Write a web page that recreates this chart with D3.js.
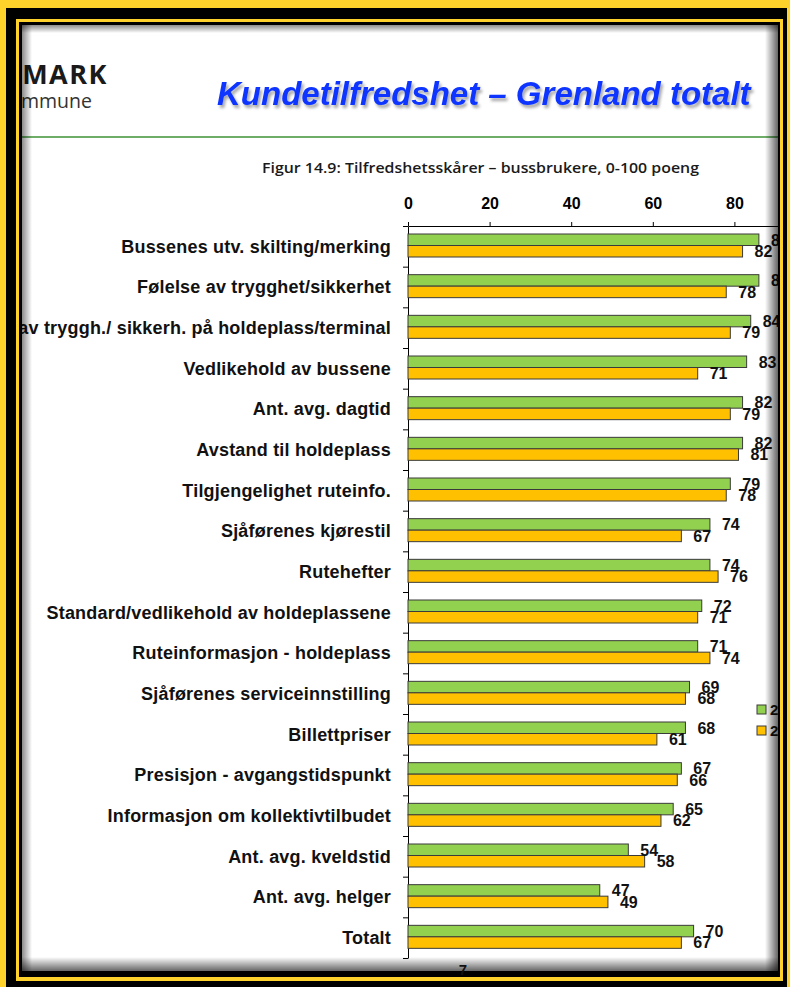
<!DOCTYPE html>
<html>
<head>
<meta charset="utf-8">
<script src="https://d3js.org/d3.v7.min.js"></script>
<style>
  body { margin: 0; background: #FFD12B; }
  svg { display: block; }
</style>
</head>
<body>
<div id="chart"></div>
<script>

// data
var categories = [
  "Bussenes utv. skilting/merking",
  "Følelse av trygghet/sikkerhet",
  "Følelse av tryggh./ sikkerh. på holdeplass/terminal",
  "Vedlikehold av bussene",
  "Ant. avg. dagtid",
  "Avstand til holdeplass",
  "Tilgjengelighet ruteinfo.",
  "Sjåførenes kjørestil",
  "Rutehefter",
  "Standard/vedlikehold av holdeplassene",
  "Ruteinformasjon - holdeplass",
  "Sjåførenes serviceinnstilling",
  "Billettpriser",
  "Presisjon - avgangstidspunkt",
  "Informasjon om kollektivtilbudet",
  "Ant. avg. kveldstid",
  "Ant. avg. helger",
  "Totalt"
];
var series2012 = [86, 86, 84, 83, 82, 82, 79, 74, 74, 72, 71, 69, 68, 67, 65, 54, 47, 70];
var series2010 = [82, 78, 79, 71, 79, 81, 78, 67, 76, 71, 74, 68, 61, 66, 62, 58, 49, 67];
var seriesNames = ["2012", "2010"];
var seriesColors = ["#92D050", "#FFC000"];
var xTicks = [0, 20, 40, 60, 80, 100];

var width = 790;
var height = 987;
var arial = "'Liberation Sans', Arial, sans-serif";

var svg = d3
  .select("#chart")
  .append("svg")
  .attr("width", width)
  .attr("height", height);

var defs = svg.append("defs");

defs.append("clipPath").attr("id", "slideClip")
  .append("rect")
  .attr("x", 22).attr("y", 25).attr("width", 756).attr("height", 946);

var shadow = defs.append("filter").attr("id", "titleShadow")
  .attr("x", "-5%").attr("y", "-30%").attr("width", "110%").attr("height", "160%");
shadow.append("feDropShadow")
  .attr("dx", 2).attr("dy", 3).attr("stdDeviation", 1.4)
  .attr("flood-color", "#000").attr("flood-opacity", 0.35);

// gradients for the inner shadow of the slide
function edgeGrad(id, x1, y1, x2, y2, op) {
  var g = defs.append("linearGradient").attr("id", id)
    .attr("x1", x1).attr("y1", y1).attr("x2", x2).attr("y2", y2);
  g.append("stop").attr("offset", "0%").attr("stop-color", "#000").attr("stop-opacity", op);
  g.append("stop").attr("offset", "100%").attr("stop-color", "#000").attr("stop-opacity", 0);
}
edgeGrad("gLeft", 0, 0, 1, 0, 0.45);
edgeGrad("gTop", 0, 0, 0, 1, 0.45);
edgeGrad("gRight", 1, 0, 0, 0, 0.6);
edgeGrad("gBottom", 0, 1, 0, 0, 0.6);

// frame
svg.append("rect").attr("width", width).attr("height", height).attr("fill", "#FFD12B");
svg.append("rect").attr("x", 6).attr("y", 8).attr("width", 781).attr("height", 979).attr("fill", "#000");
svg.append("rect").attr("x", 16).attr("y", 19).attr("width", 767).attr("height", 962).attr("fill", "#FFD12B");
svg.append("rect").attr("x", 19).attr("y", 22).attr("width", 761).attr("height", 955).attr("fill", "#000");

var slide = svg.append("g").attr("clip-path", "url(#slideClip)");
slide.append("rect").attr("x", 22).attr("y", 25).attr("width", 756).attr("height", 946).attr("fill", "#fff");

// logo (cut by the frame)
slide.append("text")
  .attr("x", 108).attr("y", 84)
  .attr("text-anchor", "end")
  .attr("font-family", "'Open Sans', sans-serif")
  .attr("font-weight", 700)
  .attr("font-size", 27)
  .attr("letter-spacing", 1.5)
  .attr("fill", "#1a1a1a")
  .text("TELEMARK");
slide.append("text")
  .attr("x", 92).attr("y", 108)
  .attr("text-anchor", "end")
  .attr("font-family", "'Open Sans', sans-serif")
  .attr("font-size", 19.5)
  .attr("fill", "#333")
  .text("fylkeskommune");

// title
slide.append("text")
  .attr("x", 217).attr("y", 105)
  .attr("font-family", arial)
  .attr("font-weight", "bold")
  .attr("font-style", "italic")
  .attr("font-size", 33)
  .attr("fill", "#0F35FF")
  .attr("filter", "url(#titleShadow)")
  .text("Kundetilfredshet – Grenland totalt");

slide.append("line")
  .attr("x1", 22).attr("x2", 778).attr("y1", 137).attr("y2", 137)
  .attr("stroke", "#3C9234").attr("stroke-width", 1.5);

slide.append("text")
  .attr("x", 262).attr("y", 173)
  .attr("font-family", "'Open Sans', sans-serif")
  .attr("font-weight", 600)
  .attr("font-size", 15)
  .attr("textLength", 437)
  .attr("lengthAdjust", "spacingAndGlyphs")
  .attr("fill", "#1a1a1a")
  .text("Figur 14.9: Tilfredshetsskårer – bussbrukere, 0-100 poeng");

// scales
var xScale = d3.scaleLinear().domain([0, 100]).range([408, 816]);
var yScale = d3.scaleBand().domain(categories).range([226, 958]);
var yLine = d3.scaleLinear().domain([0, categories.length]).range([226, 958]);
var inner = d3.scaleBand().domain(seriesNames).range([8, 31]);
var color = d3.scaleOrdinal().domain(seriesNames).range(seriesColors);

var xAxis = d3.axisTop(xScale).tickValues(xTicks).tickSize(4).tickSizeOuter(0).tickPadding(13);
var yAxis = d3.axisLeft(yLine).tickValues(d3.range(categories.length + 1)).tickFormat("").tickSize(5).tickSizeOuter(0);

var gx = slide.append("g")
  .attr("class", "xAxis")
  .attr("transform", "translate(0,226)")
  .call(xAxis);
gx.selectAll("text")
  .attr("font-family", arial)
  .attr("font-weight", "bold")
  .attr("font-size", 16)
  .attr("fill", "#000");
gx.selectAll("path, line").attr("stroke", "#000");

var gy = slide.append("g")
  .attr("class", "yAxis")
  .attr("transform", "translate(408,0)")
  .call(yAxis);
gy.selectAll("path, line").attr("stroke", "#000");

// category labels
slide.append("g").selectAll("text")
  .data(categories)
  .enter()
  .append("text")
  .attr("x", 391)
  .attr("y", function(d) { return yScale(d) + yScale.bandwidth() / 2; })
  .attr("dy", "0.35em")
  .attr("text-anchor", "end")
  .attr("font-family", arial)
  .attr("font-weight", "bold")
  .attr("font-size", 18)
  .attr("letter-spacing", 0.2)
  .attr("fill", "#111")
  .text(function(d) { return d; });

var rows = categories.map(function(c, i) {
  return { cat: c, vals: [
    { s: seriesNames[0], v: series2012[i] },
    { s: seriesNames[1], v: series2010[i] }
  ] };
});

var rowG = slide.append("g").selectAll("g")
  .data(rows)
  .enter()
  .append("g")
  .attr("transform", function(d) { return "translate(0," + yScale(d.cat) + ")"; });

rowG.selectAll("rect")
  .data(function(d) { return d.vals; })
  .enter()
  .append("rect")
  .attr("x", xScale(0))
  .attr("y", function(d) { return inner(d.s); })
  .attr("width", function(d) { return xScale(d.v) - xScale(0); })
  .attr("height", inner.bandwidth())
  .attr("fill", function(d) { return color(d.s); })
  .attr("stroke", "#3a3a3a")
  .attr("stroke-width", 1);

rowG.selectAll("text")
  .data(function(d) { return d.vals; })
  .enter()
  .append("text")
  .attr("x", function(d) { return xScale(d.v) + 12; })
  .attr("y", function(d) { return inner(d.s) + inner.bandwidth() / 2; })
  .attr("dy", "0.36em")
  .attr("font-family", arial)
  .attr("font-weight", "bold")
  .attr("font-size", 16)
  .attr("fill", "#111")
  .text(function(d) { return d.v; });

// legend
var legend = slide.append("g").selectAll("g")
  .data(seriesNames)
  .enter()
  .append("g")
  .attr("transform", function(d, i) { return "translate(757," + (705 + i * 21) + ")"; });
legend.append("rect")
  .attr("width", 9).attr("height", 9)
  .attr("fill", function(d) { return color(d); })
  .attr("stroke", "#3a3a3a");
legend.append("text")
  .attr("x", 13).attr("y", 5).attr("dy", "0.36em")
  .attr("font-family", arial)
  .attr("font-weight", "bold")
  .attr("font-size", 15)
  .attr("fill", "#111")
  .text(function(d) { return d; });

// inner shadow of the slide
slide.append("rect").attr("x", 22).attr("y", 25).attr("width", 10).attr("height", 946).attr("fill", "url(#gLeft)");
slide.append("rect").attr("x", 22).attr("y", 25).attr("width", 756).attr("height", 8).attr("fill", "url(#gTop)");
slide.append("rect").attr("x", 765).attr("y", 25).attr("width", 13).attr("height", 946).attr("fill", "url(#gRight)");
slide.append("rect").attr("x", 22).attr("y", 957).attr("width", 756).attr("height", 14).attr("fill", "url(#gBottom)");

// page number, sits over the bottom shadow
svg.append("text")
  .attr("x", 463).attr("y", 975)
  .attr("text-anchor", "middle")
  .attr("font-family", arial)
  .attr("font-weight", "bold")
  .attr("font-size", 15)
  .attr("fill", "#111")
  .text("7");

</script>
</body>
</html>
